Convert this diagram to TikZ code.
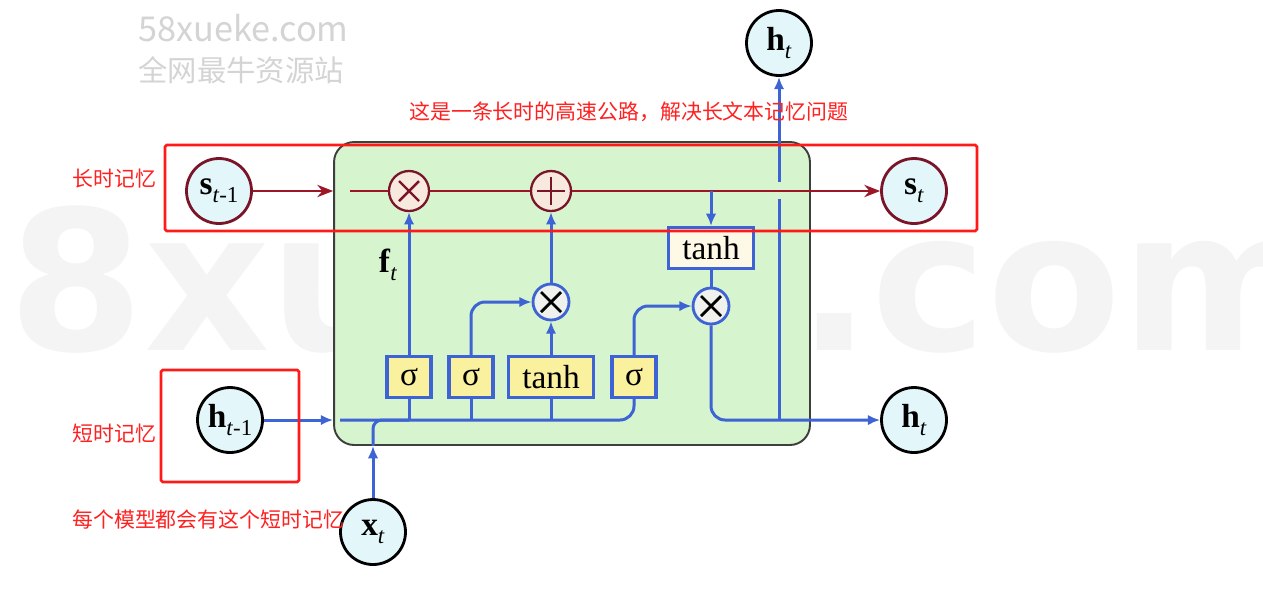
\documentclass[tikz,border=0pt]{standalone}
\usepackage{fontspec}
\setmainfont{Liberation Serif}
\newfontfamily\cjk{Noto Sans CJK SC}
\newfontfamily\wmfont{DejaVu Sans}
\usetikzlibrary{arrows.meta}
\definecolor{bluel}{HTML}{3D63D4}
\definecolor{sred}{HTML}{9C1626}
\definecolor{cred}{HTML}{7A1428}
\definecolor{redbox}{HTML}{FF1A1A}
\definecolor{cellgreen}{HTML}{D6F4CE}
\definecolor{cellborder}{HTML}{3E3E3E}
\definecolor{nodecyan}{HTML}{E3F7FB}
\definecolor{gateyellow}{HTML}{F9F19E}
\definecolor{cream}{HTML}{FDF9E6}
\definecolor{opfill}{HTML}{EEF1EC}
\definecolor{ropfill}{HTML}{F8E9DE}
\definecolor{wmgray}{HTML}{D4D4D4}
\definecolor{wmfaint}{HTML}{F4F4F4}
\definecolor{annotred}{HTML}{FF2020}
\newcommand\subtx[1]{\raisebox{-4.5pt}{\fontsize{13}{13}\selectfont #1}}
\begin{document}
\begin{tikzpicture}[x=0.02cm,y=-0.02cm,
  every node/.style={font=\fontsize{19}{21}\selectfont},
  vstate/.style={circle, draw=black, line width=1.6pt, fill=nodecyan, minimum size=1.3cm, inner sep=0pt},
  cstate/.style={vstate, draw=cred},
  gatebox/.style={rectangle, draw=bluel, line width=1.8pt, fill=gateyellow, minimum width=0.88cm, minimum height=0.82cm, inner sep=0pt},
  widegate/.style={gatebox, minimum width=1.7cm},
  opnode/.style={circle, draw=bluel, line width=1.6pt, fill=opfill, minimum size=0.72cm, inner sep=0pt},
  ropnode/.style={circle, draw=cred, line width=1.3pt, fill=ropfill, minimum size=0.8cm, inner sep=0pt},
  bline/.style={draw=bluel, line width=1.7pt},
  barrow/.style={bline, -{Latex[length=7pt,width=6pt]}},
  rline/.style={draw=sred, line width=1.2pt},
  rarrow/.style={rline, -{Stealth[length=9pt,width=7pt]}},
  annotbox/.style={draw=redbox, line width=1.5pt, rounded corners=1pt},
  annot/.style={text=annotred, font=\cjk\fontsize{11.9}{14}\selectfont, anchor=west, inner sep=0pt},
  wmsmall/.style={text=wmgray, anchor=west, inner sep=0pt},
]
\useasboundingbox (0,0) rectangle (1263,610);
\fill[white] (0,0) rectangle (1263,610);

% faint background watermark
\begin{scope}
\clip (0,0) rectangle (1263,610);
\node[text=wmfaint, anchor=base west, inner sep=0pt, font=\wmfont\bfseries\fontsize{111}{120}\selectfont] (wmbig) at (8,350) {8xueke.com};
\end{scope}

% small watermark
\node[wmsmall, font=\cjk\fontsize{19.5}{22}\selectfont] (wm1) at (138,28) {58xueke.com};
\node[wmsmall, font=\cjk\fontsize{16.7}{19}\selectfont] (wm2) at (138,70) {全网最牛资源站};

% cell
\node[draw=cellborder, line width=1.1pt, fill=cellgreen, rounded corners=0.4cm,
      minimum width=9.52cm, minimum height=6.06cm, inner sep=0pt] (cell) at (572,293.5) {};

% states
\node[cstate] (sprev) at (219,191) {\textbf{s}\subtx{\textit{t}-1}};
\node[cstate] (snext) at (914,191) {\textbf{s}\subtx{\textit{t}}};
\node[vstate] (hprev) at (230,420) {\textbf{h}\subtx{\textit{t}-1}};
\node[vstate] (hout) at (914,420) {\textbf{h}\subtx{\textit{t}}};
\node[vstate] (htop) at (779,43) {\textbf{h}\subtx{\textit{t}}};
\node[vstate] (xt) at (373,532) {\textbf{x}\subtx{\textit{t}}};

% operators
\node[ropnode] (mulf) at (409,191) {};
\node[ropnode] (addi) at (551,191) {};
\node[opnode] (muli) at (551,302) {};
\node[opnode] (mulo) at (711,306) {};
\draw[cred, line width=1.4pt] ([shift={(-10,-10)}]mulf.center) -- ([shift={(10,10)}]mulf.center)
                              ([shift={(-10,10)}]mulf.center) -- ([shift={(10,-10)}]mulf.center);
\draw[cred, line width=1.4pt] ([shift={(-14,0)}]addi.center) -- ([shift={(14,0)}]addi.center)
                              ([shift={(0,-14)}]addi.center) -- ([shift={(0,14)}]addi.center);
\foreach \m in {muli,mulo}{
  \draw[black, line width=1.6pt] ([shift={(-10,-10)}]\m.center) -- ([shift={(10,10)}]\m.center)
                                 ([shift={(-10,10)}]\m.center) -- ([shift={(10,-10)}]\m.center);
}

% gates
\node[gatebox] (sig1) at (409,377) {σ};
\node[gatebox] (sig2) at (471,377) {σ};
\node[widegate] (tanh1) at (551,377) {tanh};
\node[gatebox] (sig3) at (634,377) {σ};
\node[widegate, fill=cream] (tanh2) at (711,248) {tanh};

\node (ft) at (388,265) {\textbf{f}\subtx{\textit{t}}};

% helper coordinates
\coordinate (sin) at (350,191);
\coordinate (busL) at (340,420);
\coordinate (gapB) at (779,199);
\coordinate (gapT) at (779,182);

% cell-state line
\draw[rarrow] (sprev) -- (cell.west |- sprev);
\draw[rline] (sin) -- (mulf);
\draw[rline] (mulf) -- (addi);
\draw[rarrow] (addi) -- (snext);

% inputs
\draw[barrow] (hprev) -- (cell.west |- hprev);
\draw[barrow] (xt) -- (xt |- cell.south);
\draw[bline, rounded corners=5pt] (xt |- cell.south) -- (xt |- busL) -- (sig1.south |- busL);
\draw[bline, rounded corners=8pt] (busL) -- (sig3.south |- busL) -- (sig3.south);
\draw[bline] (sig1.south |- busL) -- (sig1.south);
\draw[bline] (sig2.south |- busL) -- (sig2.south);
\draw[bline] (tanh1.south |- busL) -- (tanh1.south);

% gate outputs
\draw[barrow] (sig1.north) -- (mulf.south);
\draw[barrow, rounded corners=8pt] (sig2.north) |- (muli.west);
\draw[barrow] (tanh1.north) -- (muli.south);
\draw[barrow] (muli.north) -- (addi.south);
\draw[barrow, rounded corners=8pt] (sig3.north) |- (mulo.west);
\draw[barrow] (tanh2.north |- sin) -- (tanh2.north);
\draw[bline] (tanh2.south) -- (mulo.north);
\draw[barrow, rounded corners=8pt] (mulo.south) |- (hout.west);
\draw[bline] (htop |- hout) -- (gapB);
\draw[barrow] (gapT) -- (htop.south);

% annotations
\draw[annotbox] (165,145) rectangle (977,231);
\draw[annotbox] (161,370) rectangle (299,482);
\node[annot] (a1) at (409,112) {这是一条长时的高速公路，解决长文本记忆问题};
\node[annot] (a2) at (72,179) {长时记忆};
\node[annot] (a3) at (72,434) {短时记忆};
\node[annot] (a4) at (72,519) {每个模型都会有这个短时记忆};
\end{tikzpicture}
\end{document}
